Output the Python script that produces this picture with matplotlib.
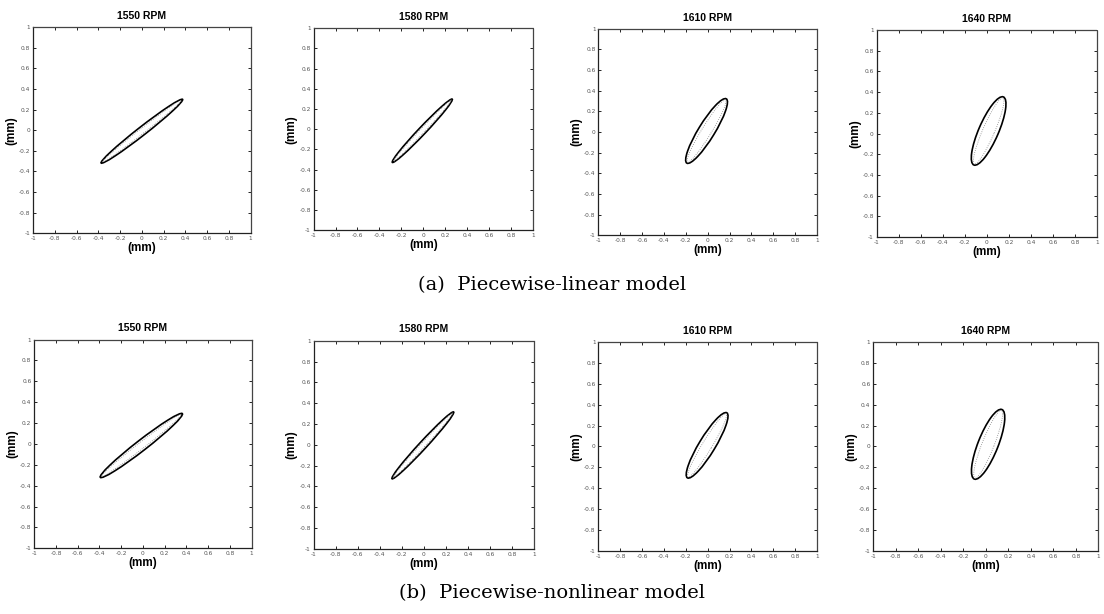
import numpy as np
import matplotlib.pyplot as plt
from matplotlib.patches import Ellipse

# orbit plots (x vs y, mm) - two models, four speeds
rpm_labels = ["1550 RPM", "1580 RPM", "1610 RPM", "1640 RPM"]

# piecewise-linear model: ellipse centre, major axis, minor axis, tilt [deg]
lin_cx = [0.00, -0.01, -0.01, 0.015]
lin_cy = [-0.01, -0.015, 0.01, 0.025]
lin_major = [0.97, 0.83, 0.72, 0.71]
lin_minor = [0.08, 0.07, 0.15, 0.18]
lin_angle = [39.5, 49.0, 60.0, 68.0]

# piecewise-nonlinear model
nl_cx = [-0.015, -0.01, -0.005, 0.02]
nl_cy = [-0.015, -0.005, 0.01, 0.02]
nl_major = [0.97, 0.85, 0.72, 0.71]
nl_minor = [0.10, 0.07, 0.15, 0.18]
nl_angle = [39.0, 49.0, 60.0, 70.0]

captions = ["(a)  Piecewise-linear model", "(b)  Piecewise-nonlinear model"]

ticks = np.round(np.arange(-1, 1.01, 0.2), 1)
tick_labels = ["-1", "-0.8", "-0.6", "-0.4", "-0.2", "0", "0.2", "0.4", "0.6", "0.8", "1"]

# axes boxes [left, bottom, width, height] in figure fractions
boxes = [
    [[0.030, 0.620, 0.197, 0.336], [0.284, 0.625, 0.199, 0.329],
     [0.542, 0.617, 0.198, 0.336], [0.794, 0.614, 0.200, 0.337]],
    [[0.031, 0.107, 0.197, 0.340], [0.284, 0.106, 0.200, 0.339],
     [0.542, 0.103, 0.198, 0.340], [0.791, 0.103, 0.204, 0.340]],
]

rows = [
    (lin_cx, lin_cy, lin_major, lin_minor, lin_angle),
    (nl_cx, nl_cy, nl_major, nl_minor, nl_angle),
]

fig = plt.figure(figsize=(11.04, 6.14), dpi=100)

for r, (cx, cy, maj, mnr, ang) in enumerate(rows):
    for i in range(4):
        ax = fig.add_axes(boxes[r][i])
        orbit = Ellipse((cx[i], cy[i]), maj[i], mnr[i], angle=ang[i],
                        fill=False, edgecolor="black", linewidth=1.2)
        ax.add_patch(orbit)
        # faint inner trace, like the second pass of the orbit
        inner = Ellipse((cx[i], cy[i]), maj[i] * 0.97, mnr[i] * 0.6, angle=ang[i],
                        fill=False, edgecolor="#888888", linewidth=0.6, linestyle=":")
        ax.add_patch(inner)

        ax.set_xlim(-1, 1)
        ax.set_ylim(-1, 1)
        ax.set_xticks(ticks)
        ax.set_yticks(ticks)
        ax.set_xticklabels(tick_labels)
        ax.set_yticklabels(tick_labels)
        ax.tick_params(direction="in", length=2.5, width=0.6, labelsize=4.2,
                       labelcolor="#555555", top=True, right=True, pad=2)
        for side in ["left", "bottom"]:
            ax.spines[side].set_linewidth(0.9)
            ax.spines[side].set_color("#222222")
        for side in ["top", "right"]:
            ax.spines[side].set_linewidth(0.9)
            ax.spines[side].set_color("#444444")
            ax.spines[side].set_linestyle((0, (1, 1)))

        ax.set_title(rpm_labels[i], fontsize=7.5, fontweight="bold",
                     family="Liberation Sans", pad=6)
        ax.set_xlabel("(mm)", fontsize=8.5, fontweight="bold",
                      family="Liberation Sans", labelpad=1)
        ax.set_ylabel("(mm)", fontsize=8.5, fontweight="bold",
                      family="Liberation Sans", labelpad=1)

fig.text(0.50, 1 - 285 / 614, captions[0], ha="center", va="center",
         fontsize=14, family="DejaVu Serif")
fig.text(0.50, 1 - 593 / 614, captions[1], ha="center", va="center",
         fontsize=14, family="DejaVu Serif")

fig.savefig("out.png", dpi=100)
